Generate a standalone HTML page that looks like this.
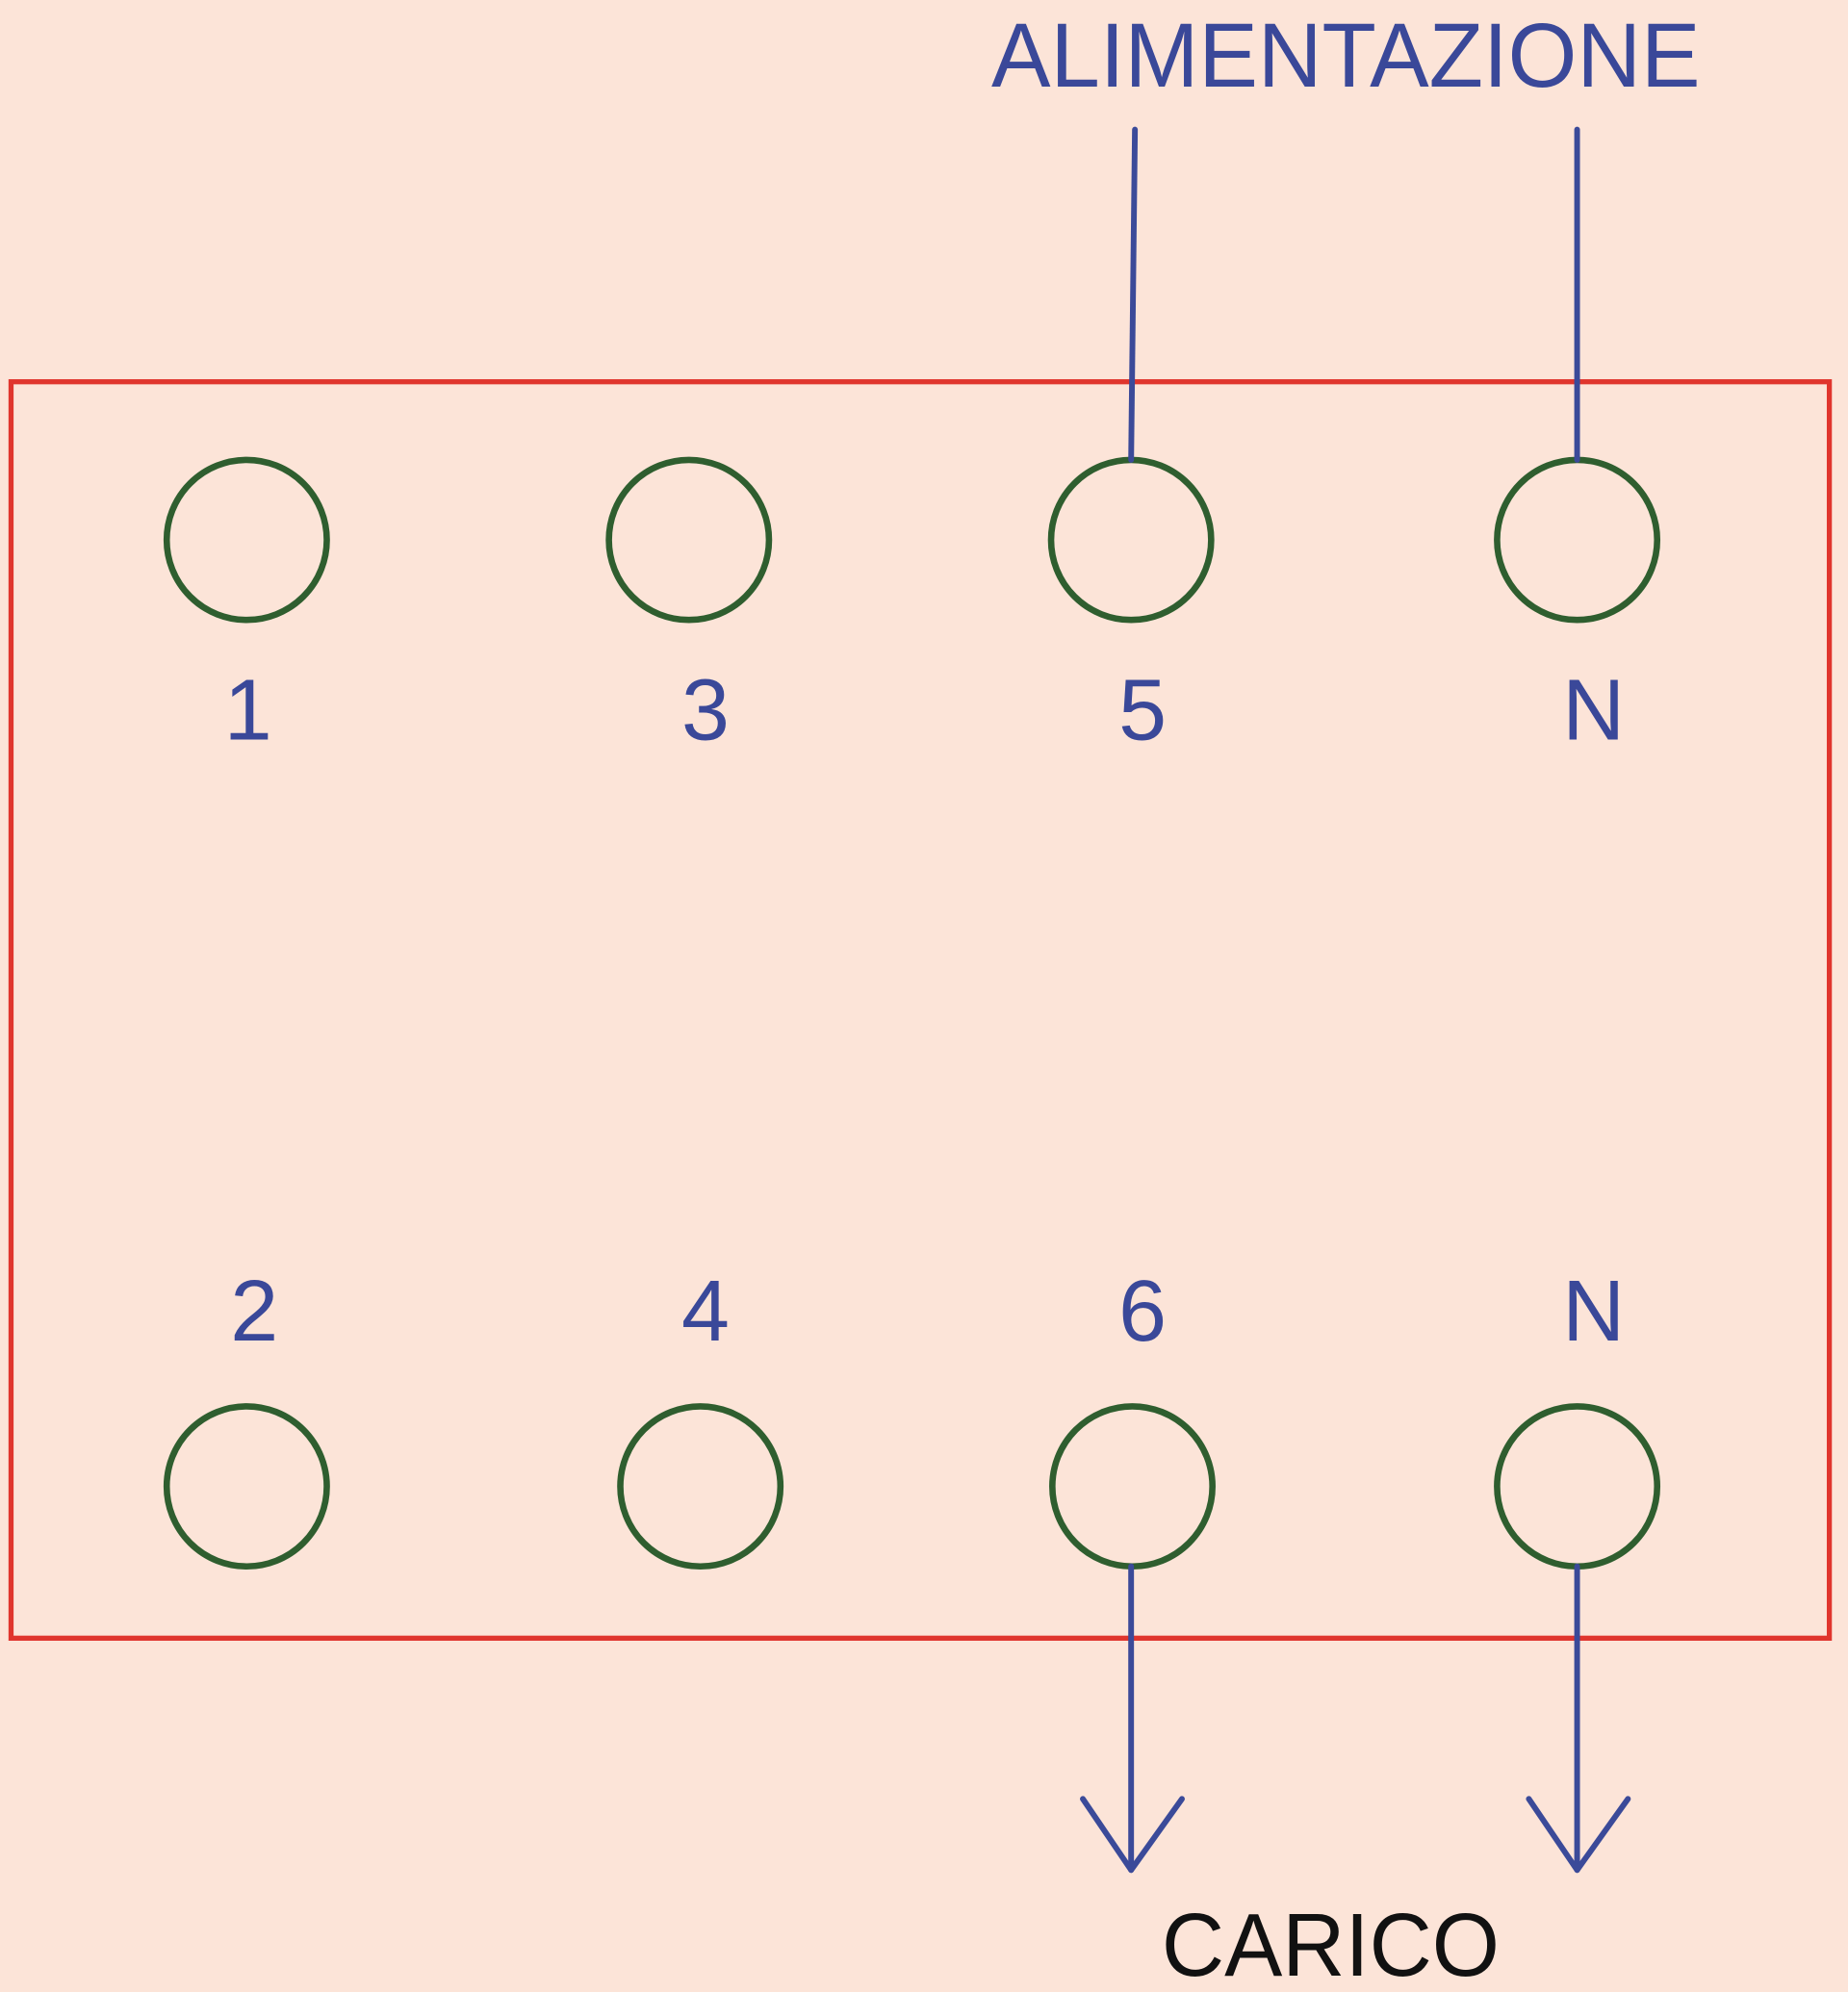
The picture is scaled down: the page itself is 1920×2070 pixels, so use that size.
<!DOCTYPE html>
<html><head><meta charset="utf-8"><style>
html,body{margin:0;padding:0;background:#fce4d8;}
svg{display:block;}
</style></head><body>
<svg width="1920" height="2070" viewBox="0 0 1454 1568" xmlns="http://www.w3.org/2000/svg">
<rect x="0" y="0" width="1454" height="1568" fill="#fce4d8"/>
<rect x="8.5" y="300.5" width="1431" height="989" fill="none" stroke="#e0352d" stroke-width="4"/>
<g fill="none" stroke="#2f5e2f" stroke-width="5">
<circle cx="194" cy="425" r="63"/>
<circle cx="542" cy="425" r="63"/>
<circle cx="890" cy="425" r="63"/>
<circle cx="1241" cy="425" r="63"/>
<circle cx="194" cy="1170" r="63"/>
<circle cx="551" cy="1170" r="63"/>
<circle cx="891" cy="1170" r="63"/>
<circle cx="1241" cy="1170" r="63"/>
</g>
<g stroke="#3b4a99" stroke-width="4.5" fill="none" stroke-linecap="round" stroke-linejoin="round">
<line x1="893" y1="102" x2="890" y2="362"/>
<line x1="1241" y1="102" x2="1241" y2="362"/>
<line x1="890" y1="1233" x2="890" y2="1472"/>
<polyline points="852,1416 890,1472 930,1416"/>
<line x1="1241" y1="1233" x2="1241" y2="1472"/>
<polyline points="1203,1416 1241,1472 1281,1416"/>
</g>
<g font-family="Liberation Sans, sans-serif" fill="#3a4899" font-size="68" text-anchor="middle">
<text x="195" y="582">1</text>
<text x="555" y="582">3</text>
<text x="899" y="582">5</text>
<text x="1254" y="582">N</text>
<text x="200" y="1055">2</text>
<text x="555" y="1055">4</text>
<text x="899" y="1055">6</text>
<text x="1254" y="1055">N</text>
<text x="1059" y="68" font-size="72" textLength="558" lengthAdjust="spacingAndGlyphs">ALIMENTAZIONE</text>
</g>
<text x="1047" y="1555" font-family="Liberation Sans, sans-serif" font-size="70" fill="#111" text-anchor="middle" textLength="266" lengthAdjust="spacingAndGlyphs">CARICO</text>
</svg>
</body></html>
